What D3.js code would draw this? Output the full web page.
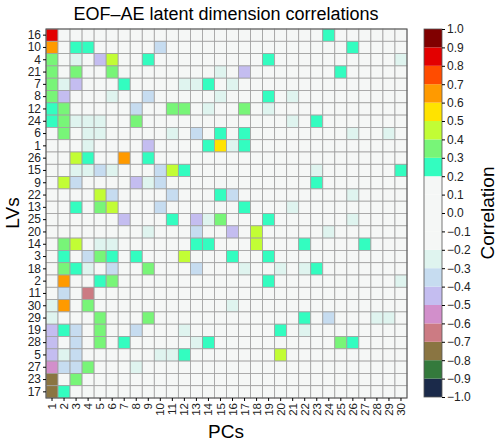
<!DOCTYPE html>
<html><head><meta charset="utf-8">
<script src="https://cdn.jsdelivr.net/npm/d3@7"></script>
<style>body{margin:0;background:#fff}text{font-family:"Liberation Sans",Arial,sans-serif}</style>
</head><body><svg id="c" width="500" height="442"></svg>
<script>
const pcs = d3.range(1,31).map(String);
const lvs = ["16","10","4","21","7","8","12","24","6","1","26","15","9","22","13","25","20","14","3","18","2","11","30","29","19","28","5","27","23","17"];
// code letters -> correlation values (bin centres)
const codeVal = {".":0,"a":-0.25,"b":-0.35,"c":-0.45,"d":-0.55,"e":-0.65,"f":-0.75,"T":0.25,"G":0.35,"Y":0.45,"U":0.55,"O":0.65,"R":0.85};
const rowCodes = [
"R......................T......",
"O.TT.....b...............T....",
"G.a.cY..T.........T..........a",
"G.G..G........a.c.......T.....",
"Gac...T....aaT.a..............",
"Gc...a..b.....a...T.a.........",
"TG.....b..GG.a..G.a...........",
"TGaaa..G............a.T.......",
".G.aa.....a.b.T.T........a..a.",
"...a....c....TUaT.............",
"..YT..O.T.....................",
"..aaba...bYT..........a......T",
".Yb....cab............T.......",
"....Yb....b...Tb.........a....",
"..T.GY...b......T...a.........",
"......c...T.caG...T......a....",
"........a...b..c.Y.....a......",
".GY.aa......TT...Y...T....T...",
".T.bGT.T...Y...T..T...........",
".GTa.b..G...b...a..a.aT.......",
".O..TG............T..........a",
".b.e..........................",
"aO.G...........a..............",
"a...G...G............T.b...aa.",
"cTb.G..b...a.......T.a........",
"c.b.G.T.....aT..........GT....",
"cab......aaT.......Y..........",
"dbbG...a......................",
"f.G...........................",
"fT............................"
];
const values = rowCodes.map(r => r.split("").map(ch => codeVal[ch]));
const cbTicks = d3.range(-10,11).map(i => i/10);
const binColors = ["#1b2a4a","#347a3c","#8a7542","#cc7b83","#d28fcb","#c4bdf0","#c6dcf0","#dff4ef","#f5f7f6","#f5f7f6","#f5f7f6","#f5f7f6","#33fdc0","#78f578","#c2fd35","#ffe300","#ff9a00","#ff4c00","#e30000","#800000"];

const svg = d3.select("#c");
const x = d3.scaleBand().domain(pcs).range([46,407]);
const y = d3.scaleBand().domain(lvs).range([29,398]);
const color = d3.scaleQuantize().domain([-1,1]).range(binColors);

const cells = [];
lvs.forEach((lv,i)=>pcs.forEach((pc,j)=>cells.push({lv,pc,v:values[i][j]})));
svg.append("g").selectAll("rect").data(cells).join("rect")
  .attr("x",d=>x(d.pc)).attr("y",d=>y(d.lv))
  .attr("width",x.bandwidth()).attr("height",y.bandwidth())
  .attr("fill",d=>color(d.v)).attr("stroke","#a0a0a0").attr("stroke-width",0.8);
svg.append("rect").attr("x",46).attr("y",29).attr("width",361).attr("height",369)
  .attr("fill","none").attr("stroke","#555").attr("stroke-width",1);

const xa = svg.append("g").attr("transform","translate(0,398)").call(d3.axisBottom(x).tickSize(3).tickPadding(2));
xa.select(".domain").remove();
xa.selectAll("text").attr("transform","rotate(-90)").attr("text-anchor","end")
  .attr("x",-5).attr("y",0).attr("dy","0.35em").style("font-size","11.5px").attr("fill","#222");
const ya = svg.append("g").attr("transform","translate(46,0)").call(d3.axisLeft(y).tickSize(3).tickPadding(2));
ya.select(".domain").remove();
ya.selectAll("text").style("font-size","12px").attr("fill","#222");

svg.append("text").attr("x",226).attr("y",20).attr("text-anchor","middle").style("font-size","18px").text("EOF–AE latent dimension correlations");
svg.append("text").attr("x",226).attr("y",438).attr("text-anchor","middle").style("font-size","19px").text("PCs");
svg.append("text").attr("transform","translate(19,213) rotate(-90)").attr("text-anchor","middle").style("font-size","19px").text("LVs");

// colorbar
const cy = d3.scaleLinear().domain([-1,1]).range([397,29]);
const cb = svg.append("g");
cb.selectAll("rect").data(binColors).join("rect")
  .attr("x",424).attr("width",18)
  .attr("y",(c,i)=>cy(-1+(i+1)*0.1)).attr("height",(c,i)=>cy(-1+i*0.1)-cy(-1+(i+1)*0.1))
  .attr("fill",c=>c);
cb.append("rect").attr("x",424).attr("y",29).attr("width",18).attr("height",368).attr("fill","none").attr("stroke","#555").attr("stroke-width",0.8);
const ca = svg.append("g").attr("transform","translate(442,0)")
  .call(d3.axisRight(cy).tickValues(cbTicks).tickFormat(d3.format(".1f")).tickSize(3).tickPadding(2));
ca.select(".domain").remove();
ca.selectAll("text").style("font-size","12px").attr("fill","#222").text(d=>d3.format(".1f")(d).replace("-","−"));
svg.append("text").attr("transform","translate(494,213) rotate(-90)").attr("text-anchor","middle").style("font-size","19px").text("Correlation");
</script></body></html>
